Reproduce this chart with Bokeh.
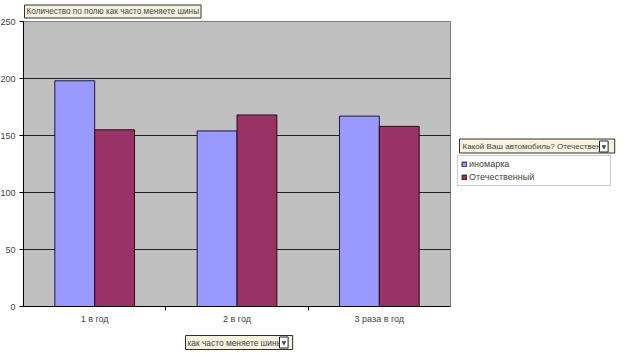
from bokeh.plotting import figure
from bokeh.models import (FixedTicker, Range1d, Legend, LegendItem, Label, ColumnDataSource)
from bokeh.transform import dodge
from bokeh.embed import file_html
from bokeh.resources import INLINE

categories = ["1 в год", "2 в год", "3 раза в год"]
inomarka = [198, 154, 167]
otech = [155, 168, 158]
series_names = ["иномарка", "Отечественный"]
y_ticks = [0, 50, 100, 150, 200, 250]
title_text = "Количество по полю как часто меняете шины"
legend_header = "Какой Ваш автомобиль? Отечествен"
field_text = "как часто меняете шины"

FONT = "Liberation Sans"
W, H = 623, 353
# plot-area placement in pixels (frame covers the whole canvas)
PL, PR, PT, PB = 23, 450, 21, 306

n = len(categories)
ymax = y_ticks[-1]
xu = (PR - PL) / n
yu = (PB - PT) / ymax
x_range = Range1d(-PL / xu, n + (W - PR) / xu)
y_range = Range1d(-(H - PB) / yu, ymax + PT / yu)

centers = [i + 0.5 for i in range(n)]
src = ColumnDataSource(dict(x=centers, a=inomarka, b=otech))

p = figure(width=W, height=H, output_backend="svg", toolbar_location=None,
           x_range=x_range, y_range=y_range, min_border=0)
p.background_fill_color = "white"
p.border_fill_color = "white"
p.outline_line_color = None

# plot area
p.quad(left=[0], right=[n], bottom=[0], top=[ymax], fill_color="#C0C0C0",
       line_color="#808080", line_width=1, level="underlay")
p.segment(x0=[0] * (len(y_ticks) - 2), x1=[n] * (len(y_ticks) - 2),
          y0=y_ticks[1:-1], y1=y_ticks[1:-1], line_color="#202020", line_width=1,
          level="underlay")
p.xgrid.grid_line_color = None
p.ygrid.grid_line_color = None

r1 = p.vbar(x=dodge("x", -0.14, range=p.x_range), top="a", width=0.28, source=src,
            fill_color="#9999FF", line_color="#1a1a40", line_width=1)
r2 = p.vbar(x=dodge("x", 0.14, range=p.x_range), top="b", width=0.28, source=src,
            fill_color="#993366", line_color="#2a0a1a", line_width=1)

# x axis
xa = p.xaxis[0]
xa.fixed_location = 0
xa.bounds = (0, n)
xa.ticker = FixedTicker(ticks=centers, minor_ticks=list(range(1, n)))
xa.major_label_overrides = {c: lab for c, lab in zip(centers, categories)}
xa.major_tick_line_color = None
xa.major_tick_out = 0
xa.major_tick_in = 0
xa.minor_tick_line_color = "black"
xa.minor_tick_out = 4
xa.minor_tick_in = 0
xa.axis_line_color = "black"
xa.major_label_text_font = FONT
xa.major_label_text_font_size = "9px"
xa.major_label_standoff = 3

# y axis
ya = p.yaxis[0]
ya.fixed_location = 0
ya.bounds = (0, ymax)
ya.ticker = FixedTicker(ticks=y_ticks)
ya.minor_tick_line_color = None
ya.major_tick_line_color = "black"
ya.major_tick_out = 4
ya.major_tick_in = 0
ya.axis_line_color = "black"
ya.major_label_text_font = FONT
ya.major_label_text_font_size = "9px"
ya.major_label_standoff = 4

# legend
legend = Legend(items=[LegendItem(label=series_names[0], renderers=[r1]),
                       LegendItem(label=series_names[1], renderers=[r2])],
                location=(457, H - 186), orientation="vertical",
                label_text_font=FONT, label_text_font_size="9px",
                glyph_width=6, glyph_height=6, label_standoff=2, label_height=10,
                label_width=138, padding=3, spacing=3, margin=0,
                border_line_color="#9a9a9a", background_fill_color="white",
                background_fill_alpha=1.0)
p.add_layout(legend, "center")

def box(text, x, y, size, pad):
    lab = Label(x=x, y=y, x_units="screen", y_units="screen", text=text,
                text_font=FONT, text_font_size=size, text_baseline="middle",
                text_align="left", padding=pad,
                background_fill_color="#F7F3DF", border_line_color="#303030",
                border_line_width=1)
    p.add_layout(lab)

def button(x, y):
    lab = Label(x=x, y=y, x_units="screen", y_units="screen", text="▼",
                text_font="DejaVu Sans", text_font_size="6px", text_baseline="middle",
                text_align="left", padding=2,
                background_fill_color="white", border_line_color="#202040",
                border_line_width=1)
    p.add_layout(lab)

box(title_text, 24, H - 11, "8.2px", (2, 2, 2, 2))
box(legend_header, 459, H - 145.5, "8.1px", (3, 14, 3, 2))
button(599, H - 146)
box(field_text, 185, H - 342, "8.4px", (2, 10, 2, 2))
button(279, H - 342)

open("out.html", "w").write(file_html(p, INLINE))
